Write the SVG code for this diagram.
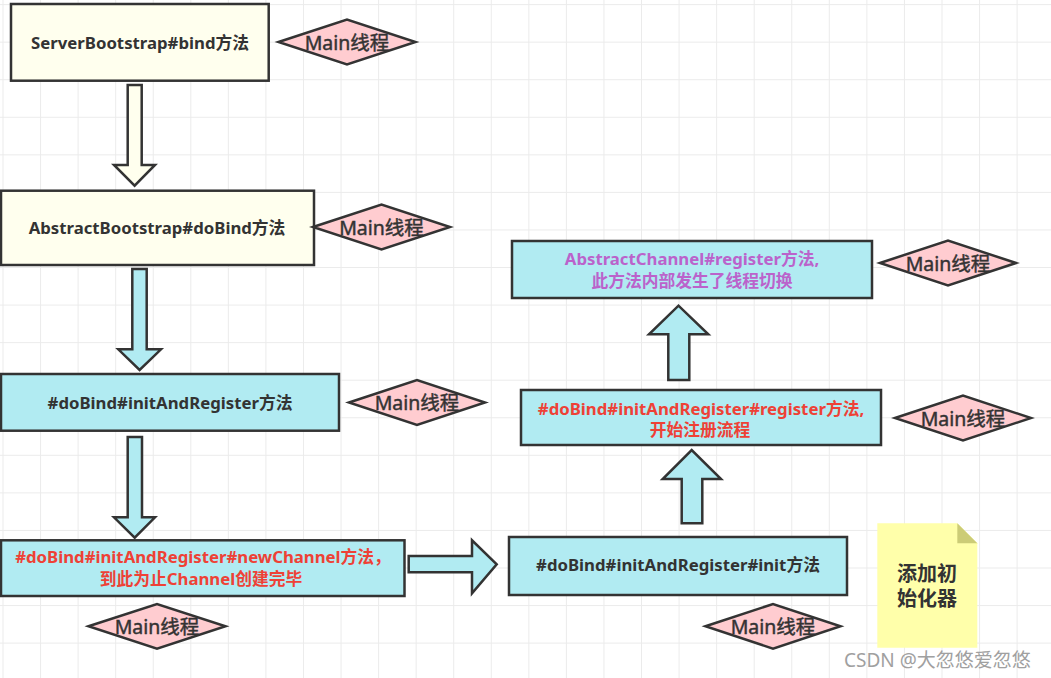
<svg xmlns="http://www.w3.org/2000/svg" width="1051" height="678" viewBox="0 0 1051 678">
<defs>
<pattern id="grid" width="37.56" height="37.56" patternUnits="userSpaceOnUse" x="2.5" y="4.1">
<path d="M0 0H37.56M0 0V37.56" fill="none" stroke="#ebebeb" stroke-width="2"/>
</pattern>
<style>
.box{stroke:#333;stroke-width:2.5}
.y{fill:#ffffee}
.b{fill:#b1ebf2}
.dia{fill:#ffccd0;stroke:#333;stroke-width:2.5}
.arr{stroke:#333;stroke-width:2.5;stroke-linejoin:miter}
text{font-family:"Noto Sans","Noto Sans CJK SC",sans-serif;text-anchor:middle;dominant-baseline:central}
.t{font-size:16.75px;font-weight:bold;fill:#333}
.red{fill:#ee4136}
.pur{fill:#bb62cb}
.m{font-size:19.5px;fill:#333;stroke:#333;stroke-width:0.45}
.n{font-size:20px;font-weight:bold;fill:#333}
.wm{font-size:19px;fill:#a0a0a0;text-anchor:start}
</style>
</defs>
<rect width="1051" height="678" fill="#ffffff"/>
<rect width="1051" height="678" fill="url(#grid)"/>

<g id="connectors">
<path class="arr y" d="M127.7 85H141.7V165H155L134.6 185.7L114 165H127.7Z"/>
<path class="arr b" d="M132.3 269H146.7V349.3H161L139.6 370L118.3 349.3H132.3Z"/>
<path class="arr b" d="M127.7 437H142V517.3H155L134.7 537.7L114 517.3H127.7Z"/>
<path class="arr b" d="M408.7 556H472V540.3L496.7 564.3L472 593.3V572.3H408.7Z"/>
<path class="arr b" d="M681.7 523.3V479H662.7L691.7 450L721 479H702.3V523.3Z"/>
<path class="arr b" d="M668.3 380V334.3H649L678.5 305.7L708.3 334.3H689.3V380Z"/>
</g>

<g id="n1">
<rect class="box y" x="11" y="4" width="257.7" height="76.7"/>
<text class="t" x="140" y="42">ServerBootstrap#bind方法</text>
</g>
<g id="d1">
<polygon class="dia" points="278.5,42 347,19.5 415.5,42 347,64.5"/>
<text class="m" x="347" y="42">Main线程</text>
</g>

<g id="n2">
<rect class="box y" x="1" y="190.7" width="313" height="74.3"/>
<text class="t" x="157" y="227">AbstractBootstrap#doBind方法</text>
</g>
<g id="d2">
<polygon class="dia" points="313,227 381.5,204.5 450,227 381.5,249.5"/>
<text class="m" x="381.5" y="227">Main线程</text>
</g>

<g id="n3">
<rect class="box b" x="1" y="374" width="338" height="56.7"/>
<text class="t" x="170" y="402">#doBind#initAndRegister方法</text>
</g>
<g id="d3">
<polygon class="dia" points="349,402.5 417,380 485,402.5 417,425"/>
<text class="m" x="417" y="402.5">Main线程</text>
</g>

<g id="n4">
<rect class="box b" x="1" y="540.3" width="403.5" height="55.7"/>
<text class="t red" x="203" y="556">#doBind#initAndRegister#newChannel方法，</text>
<text class="t red" x="201" y="578">到此为止Channel创建完毕</text>
</g>
<g id="d4">
<polygon class="dia" points="88.5,626.3 157,604 225.5,626.3 157,648.6"/>
<text class="m" x="157" y="626.3">Main线程</text>
</g>

<g id="n5">
<rect class="box b" x="509" y="537" width="338" height="58"/>
<text class="t" x="678" y="564">#doBind#initAndRegister#init方法</text>
</g>
<g id="d5">
<polygon class="dia" points="705.5,626.3 773,604 840.5,626.3 773,648.6"/>
<text class="m" x="773" y="626.3">Main线程</text>
</g>

<g id="n6">
<rect class="box b" x="521" y="390" width="360" height="55"/>
<text class="t red" x="701" y="408">#doBind#initAndRegister#register方法,</text>
<text class="t red" x="700" y="429">开始注册流程</text>
</g>
<g id="d6">
<polygon class="dia" points="895,418 963,395.5 1031,418 963,440.5"/>
<text class="m" x="963" y="418">Main线程</text>
</g>

<g id="n7">
<rect class="box b" x="512" y="241" width="360" height="57"/>
<text class="t pur" x="692" y="258">AbstractChannel#register方法,</text>
<text class="t pur" x="692" y="280">此方法内部发生了线程切换</text>
</g>
<g id="d7">
<polygon class="dia" points="880,263 948,240.5 1016,263 948,285.5"/>
<text class="m" x="948" y="263">Main线程</text>
</g>

<g id="note">
<path d="M877.3 523.3H957.3L977.3 543.3V647.7H877.3Z" fill="#ffffaa"/>
<path d="M957.3 523.3L977.3 543.3H957.3Z" fill="#cccc77"/>
<text class="n" x="927" y="573">添加初</text>
<text class="n" x="927" y="598.5">始化器</text>
</g>

<text class="wm" x="844" y="660">CSDN @大忽悠爱忽悠</text>
</svg>
